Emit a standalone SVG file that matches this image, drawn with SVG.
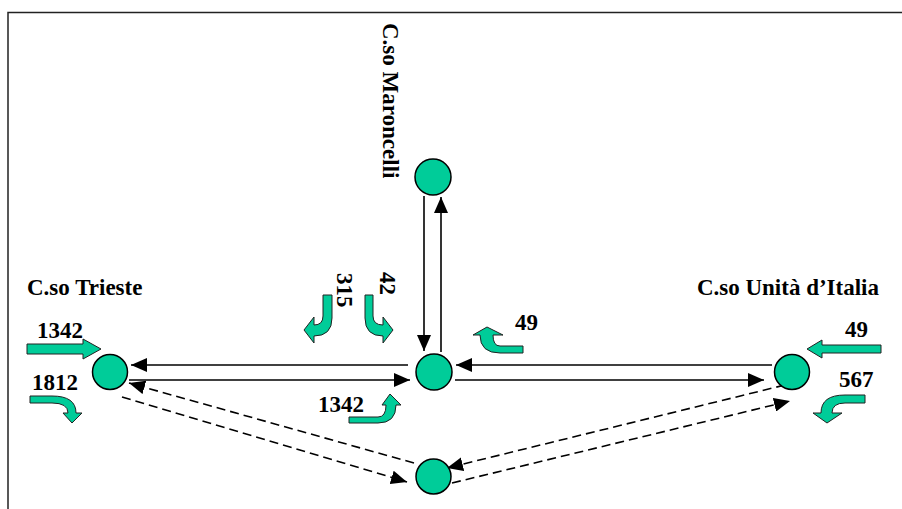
<svg xmlns="http://www.w3.org/2000/svg" width="902" height="509" viewBox="0 0 902 509">
  <style>
    .frame { stroke: #222; stroke-width: 1.5; fill: none; }
    .node { fill: #00CC99; stroke: #000; stroke-width: 1.5; }
    .link { stroke: #000; stroke-width: 1.6; fill: none; marker-end: url(#head); }
    .dash { stroke-dasharray: 9 5; }
    .flow { fill: #00CC99; stroke: #222; stroke-width: 1; }
    .lbl { font-weight: bold; font-size: 23px; fill: #000; }
  </style>
  <defs>
    <marker id="head" viewBox="0 0 16 14" refX="16" refY="7" markerWidth="16" markerHeight="14" markerUnits="userSpaceOnUse" orient="auto">
      <path d="M0,0 L16,7 L0,14 Z" fill="#000"/>
    </marker>
  </defs>

  <!-- page frame -->
  <path class="frame" d="M8,509 V12.5 H902"/>

  <!-- connectors between intersections -->
  <g id="connectors">
    <line class="link" x1="424" y1="196" x2="424" y2="351"/>
    <line class="link" x1="441" y1="352" x2="441" y2="197"/>
    <line class="link" x1="408" y1="365" x2="131" y2="365"/>
    <line class="link" x1="129" y1="380" x2="410" y2="380"/>
    <line class="link" x1="772" y1="365" x2="456" y2="365"/>
    <line class="link" x1="455" y1="380" x2="764" y2="380"/>
    <line class="link dash" x1="414" y1="463" x2="129" y2="383"/>
    <line class="link dash" x1="122" y1="397" x2="407" y2="482"/>
    <line class="link dash" x1="785" y1="385" x2="447" y2="468"/>
    <line class="link dash" x1="452" y1="483" x2="790" y2="401"/>
  </g>

  <!-- intersections -->
  <g id="node-north"><circle class="node" cx="433" cy="177" r="18"/></g>
  <g id="node-center"><circle class="node" cx="434" cy="372" r="18"/></g>
  <g id="node-west"><circle class="node" cx="110" cy="372" r="17.5"/></g>
  <g id="node-east"><circle class="node" cx="792" cy="372" r="17.5"/></g>
  <g id="node-south"><circle class="node" cx="433.5" cy="476.5" r="17.5"/></g>

  <g font-family="'Liberation Serif', 'Times New Roman', 'DejaVu Serif', serif">
    <!-- street names -->
    <g id="street-trieste"><text class="lbl" x="27" y="295">C.so Trieste</text></g>
    <g id="street-unita"><text class="lbl" x="879" y="295" text-anchor="end">C.so Unità d’Italia</text></g>
    <g id="street-maroncelli"><text class="lbl" x="383" y="23" transform="rotate(90 383 23)">C.so Maroncelli</text></g>

    <!-- turning flows, west approach -->
    <g id="flow-west-through">
      <path class="flow" d="M27,344 H83 V339 L101,349 L83,359 V354 H27 Z"/>
      <text class="lbl" x="37" y="338">1342</text>
    </g>
    <g id="flow-west-right">
      <path class="flow" d="M30,396 H52 Q76,396 76,413 H82 L72,423 L63,413 H68 Q68,403 52,403 H30 Z"/>
      <text class="lbl" x="32" y="390">1812</text>
    </g>

    <!-- turning flows, north approach -->
    <g id="flow-north-right">
      <path class="flow" d="M323,295 H332 V318 Q332,336 314,336 V343 L304,330 L314,317 V325 Q323,325 323,316 Z"/>
      <text class="lbl" x="337" y="273" transform="rotate(90 337 273)">315</text>
    </g>
    <g id="flow-north-left">
      <path class="flow" d="M365,295 H373 V316 Q373,325 383,325 V317 L393,330 L383,343 V336 Q365,336 365,318 Z"/>
      <text class="lbl" x="380" y="272" transform="rotate(90 380 272)">42</text>
    </g>

    <!-- turning flows at centre -->
    <g id="flow-center-49">
      <path class="flow" d="M523,346 H500 Q493,346 493,335 H503 L487,327 L473,335 H480 Q480,353 500,353 H523 Z"/>
      <text class="lbl" x="515" y="330">49</text>
    </g>
    <g id="flow-center-1342">
      <path class="flow" d="M349,417 H378 Q386,417 386,405 H382 L390,394 L401,405 H396 Q396,423 378,423 H349 Z"/>
      <text class="lbl" x="318" y="412">1342</text>
    </g>

    <!-- turning flows, east approach -->
    <g id="flow-east-through">
      <path class="flow" d="M881,345 H822 V340 L807,349 L822,358 V353 H881 Z"/>
      <text class="lbl" x="845" y="337">49</text>
    </g>
    <g id="flow-east-left">
      <path class="flow" d="M865,395 H845 Q821,395 821,413 H813 L827,423 L842,413 H832 Q832,403 845,403 H865 Z"/>
      <text class="lbl" x="839" y="387">567</text>
    </g>
  </g>
</svg>
